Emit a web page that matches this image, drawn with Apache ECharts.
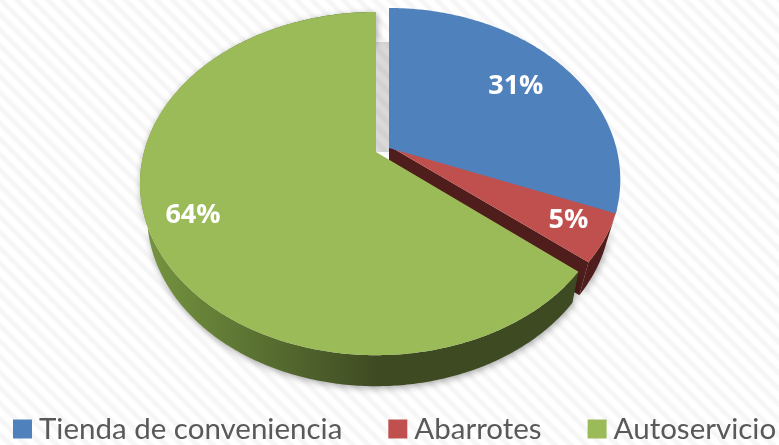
<!DOCTYPE html>
<html><head><meta charset="utf-8">
<style>
html,body{margin:0;padding:0;width:779px;height:445px;overflow:hidden;
background:repeating-linear-gradient(45deg,#ffffff 0,#ffffff 4px,#f6f6f6 6px,#f6f6f6 9px,#ffffff 11px);}
#c{width:779px;height:445px;}
</style>
<script src="https://cdn.jsdelivr.net/npm/echarts@6/dist/echarts.min.js"></script>
</head><body><div id="c"></div>
<script>
const categories = ['Tienda de conveniencia', 'Abarrotes', 'Autoservicio'];
const values = [31, 5, 64];

// Drawing configuration for each slice (not data)
const look = [
  { color: '#4F81BD', apex: [389, 148], faceSx: 0.98, faceSy: 1, labelR: 0.725, labelDy: 1, z: 3 },
  { color: '#C0504D', apex: [389, 146], faceSx: 0.985, faceSy: 0.97, labelR: 0.84, labelDy: 0, z: 1, sx: 0.94, dy: 33,
    side: '#4f1e1c', wall: '#4f1e1c' },
  { color: '#9BBB59', apex: [376, 152], faceSx: 1, faceSy: 1, labelR: 0.816, labelDy: 2, z: 2, sx: 0.97, dy: 31,
    side: { type: 'linear', x: 140, y: 0, x2: 380, y2: 0, global: true,
      colorStops: [{ offset: 0, color: '#779640' }, { offset: 0.45, color: '#5c7433' }, { offset: 1, color: '#3e4a22' }] },
    gap: true }
];
// Projection of the unit pie circle on to the tilted picture plane
const A = 232, B = 165.8, K = 0.184;
const total = values.reduce((a, b) => a + b, 0);
function project(apex, theta, r, sx, sy, dy) {
  const u = r * Math.sin(theta), v = -r * Math.cos(theta), w = 1 - K * v;
  return [apex[0] + sx * A * u / w, apex[1] + sy * B * v / w + (dy || 0)];
}
function arc(apex, t0, t1, sx, sy, dy) {
  const n = Math.max(2, Math.ceil((t1 - t0) * 90)), pts = [];
  for (let i = 0; i <= n; i++) pts.push(project(apex, t0 + (t1 - t0) * i / n, 1, sx, sy, dy));
  return pts;
}
function sliceRender(index) {
  return function (params, api) {
    const value = api.value(0);
    let before = 0;
    for (let i = 0; i < index; i++) before += values[i];
    const t0 = before / total * 2 * Math.PI, t1 = t0 + value / total * 2 * Math.PI;
    const s = look[index], ap = s.apex, children = [];
    if (s.gap) {
      const b = look[0].apex;
      children.push({ type: 'rect', shape: { x: ap[0], y: ap[1] - 110, width: b[0] - ap[0], height: 110 },
        style: { fill: 'rgba(0,0,0,0.15)' } });
    }
    if (s.side) {
      const top = arc(ap, t0, t1, s.faceSx, s.faceSy), bot = arc(ap, t0, t1, s.sx, s.faceSy, s.dy).reverse();
      children.push({ type: 'polygon', shape: { points: top.concat(bot) },
        style: { fill: s.side, shadowBlur: 7, shadowColor: 'rgba(0,0,0,0.35)', shadowOffsetX: 1, shadowOffsetY: 2 } });
    }
    if (s.wall) {
      const c = project(ap, t1, 1, s.faceSx, s.faceSy), cb = project(ap, t1, 1, s.sx, s.faceSy, s.dy), ab = [ap[0], ap[1] + s.dy];
      children.push({ type: 'polygon', shape: { points: [ap, c, cb, ab] }, style: { fill: s.wall } });
    }
    children.push({ type: 'polygon', shape: { points: [ap].concat(arc(ap, t0, t1, s.faceSx, s.faceSy)) }, style: { fill: s.color } });
    const lp = project(ap, (t0 + t1) / 2, s.labelR, s.faceSx, s.faceSy, s.labelDy);
    children.push({ type: 'text', z2: 10, style: {
      x: lp[0], y: lp[1], text: value + '%', fill: '#fff', align: 'center', verticalAlign: 'middle',
      font: 'bold 27px "Open Sans"' } });
    return { type: 'group', children };
  };
}
const chart = echarts.init(document.getElementById('c'), null, { renderer: 'canvas' });
chart.setOption({
  animation: false,
  backgroundColor: 'transparent',
  legend: {
    data: categories, left: 13, top: 414, padding: 0, itemWidth: 19, itemHeight: 19, itemGap: 46,
    icon: 'rect', selectedMode: false,
    textStyle: { fontFamily: 'Lato', fontSize: 29.5, color: '#595959', padding: [0, 0, 0, 2] }
  },
  series: categories.map((name, i) => ({
    type: 'custom', name, coordinateSystem: 'none', silent: true, z: look[i].z,
    itemStyle: { color: look[i].color },
    data: [[values[i]]],
    renderItem: sliceRender(i)
  }))
});
</script></body></html>
